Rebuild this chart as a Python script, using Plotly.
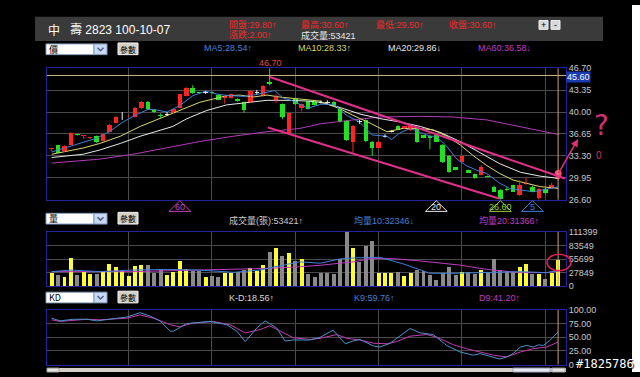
import plotly.graph_objects as go

W, H = 640, 377
FONT = "Liberation Sans, Noto Sans CJK TC, sans-serif"
CJK = "Noto Sans CJK TC, Liberation Sans, sans-serif"

# ---------------- data ----------------
opens = [34.35, 34.9, 34.0, 35.0, 36.6, 36.3, 36.05, 36.3, 35.6, 37.0,
         38.4, 39.4, 39.35, 39.3, 40.6, 41.6, 40.3, 39.55, 39.7, 39.9,
         40.7, 42.5, 43.7, 43.0, 43.0, 43.1, 42.6, 42.1, 42.2, 41.95,
         41.5, 41.5, 43.0, 42.5, 44.6, 41.9, 41.2, 36.8, 42.0, 40.6,
         41.75, 41.6, 41.55, 41.55, 41.6, 40.5, 38.6, 35.5, 38.55, 38.76,
         35.5, 34.5, 36.3, 37.0, 37.9, 37.5, 37.2, 37.5, 36.45, 36.4,
         36.45, 35.0, 33.3, 31.55, 32.4, 31.1, 30.55, 30.45, 30.25, 28.6,
         28.1, 28.3, 28.8, 27.35, 29.0, 28.6, 26.8, 28.3, 28.35, 29.8]
closes = [34.45, 33.8, 34.8, 36.8, 36.45, 36.5, 36.15, 35.4, 36.6, 38.1,
          39.3, 39.4, 39.45, 40.7, 41.6, 40.4, 40.0, 39.45, 39.7, 40.5,
          42.7, 43.7, 42.9, 42.85, 43.0, 42.85, 41.9, 42.45, 42.7, 41.7,
          40.3, 43.2, 43.0, 44.0, 44.3, 42.3, 39.3, 39.8, 41.25, 41.2,
          40.5, 41.1, 41.5, 41.5, 41.0, 38.5, 35.7, 37.9, 38.5, 35.53,
          34.5, 35.5, 36.3, 37.0, 37.3, 37.8, 37.9, 35.4, 36.05, 36.05,
          35.5, 32.3, 30.8, 31.2, 33.3, 30.75, 29.95, 31.55, 30.15, 27.85,
          26.75, 28.1, 27.85, 28.8, 29.1, 27.85, 28.3, 27.6, 28.8, 30.6]
highs = [34.45, 35.0, 34.9, 36.9, 36.6, 36.5, 36.2, 36.4, 36.7, 38.2,
         39.4, 40.0, 39.5, 40.8, 41.7, 41.7, 40.4, 39.8, 40.0, 40.6,
         42.8, 43.8, 44.1, 43.1, 43.2, 43.2, 42.7, 42.5, 42.8, 42.1,
         41.6, 43.3, 43.4, 44.1, 46.7, 42.7, 41.3, 39.9, 42.1, 41.3,
         41.8, 41.7, 41.8, 41.8, 41.7, 40.6, 38.7, 38.0, 38.8, 38.9,
         35.6, 35.6, 36.6, 37.2, 38.0, 37.9, 38.0, 37.6, 36.5, 36.5,
         36.5, 35.1, 33.4, 31.6, 33.4, 31.2, 30.6, 31.9, 30.3, 28.7,
         28.2, 28.5, 28.9, 29.6, 29.9, 28.7, 28.4, 28.4, 29.2, 30.6]
lows = [34.0, 33.7, 33.9, 34.9, 36.4, 35.9, 35.9, 35.3, 35.5, 36.9,
        38.3, 38.8, 39.3, 39.2, 40.5, 40.3, 39.9, 39.0, 39.4, 39.8,
        40.6, 42.4, 42.8, 42.8, 42.8, 42.8, 41.8, 41.3, 42.1, 41.6,
        39.9, 41.4, 42.7, 42.4, 44.1, 41.4, 38.9, 36.7, 41.1, 40.1,
        40.4, 41.0, 41.3, 41.3, 40.9, 38.4, 35.6, 33.8, 38.2, 35.4,
        33.3, 34.4, 36.1, 36.9, 37.2, 37.4, 37.1, 35.3, 36.0, 34.3,
        35.4, 32.2, 30.7, 31.1, 32.3, 30.7, 29.8, 30.3, 30.1, 27.8,
        26.6, 27.9, 27.8, 27.2, 28.9, 27.8, 26.6, 27.5, 28.3, 29.5]
volumes = [26600, 23300, 20000, 58600, 23300, 28600, 25300, 24600, 32000, 46600,
           40000, 32000, 21300, 42000, 44000, 44000, 28000, 33300, 23300, 28600,
           51300, 34600, 32000, 32000, 18600, 21300, 18600, 26600, 26600, 30000,
           33300, 38000, 32000, 44600, 70000, 78000, 62000, 67300, 52000, 56600,
           24600, 18600, 27300, 26600, 25300, 56600, 111399, 78600, 50000, 83300,
           93300, 28000, 28000, 28000, 30000, 21300, 28000, 33300, 32000, 23300,
           13300, 28000, 40000, 23300, 30000, 30000, 25300, 33300, 30000, 56600,
           33300, 32000, 30000, 40000, 46600, 25300, 25300, 14600, 28000, 53421]

ma5_x = [0, 2, 5, 7, 9, 11, 13, 15, 16, 18, 20, 22, 24, 26, 28, 30, 32, 34.8, 36, 37.6,
         40, 42, 44, 46, 48, 50, 52.3, 53, 54.3, 55.9, 57.5, 59, 60, 61.6, 63.2, 64.7,
         66.3, 67.9, 69.9, 71.5, 73.1, 75.1, 76.6, 79]
ma5_v = [33.9, 34.5, 35.4, 36.0, 37.0, 38.4, 39.5, 40.4, 40.4, 40.0, 41.0, 42.5, 43.2, 42.7,
         42.5, 42.4, 42.7, 43.3, 42.2, 41.7, 40.6, 41.2, 41.2, 39.5, 38.5, 36.5, 36.3, 35.8,
         36.8, 37.5, 36.9, 36.3, 36.3, 34.8, 32.8, 31.8, 31.1, 30.6, 29.1, 28.3, 28.1, 27.8,
         28.1, 28.54]
ma10_x = [0, 4.9, 7.5, 10.7, 13.8, 16.9, 20, 23.1, 25.2, 27.3, 29.4, 31.4, 33.6, 35.6,
          38.7, 41.7, 45, 47, 49.7, 52.3, 54.8, 57, 59.5, 61.6, 63.7, 65.8, 67.9, 69.9,
          72, 74.1, 76.2, 79]
ma10_v = [33.55, 34.5, 35.2, 36.3, 37.8, 39.0, 40.25, 41.5, 42.0, 42.5, 42.6, 42.3, 42.6,
          42.3, 42.0, 41.7, 40.5, 39.5, 38.3, 37.0, 37.5, 37.5, 37.3, 36.3, 35.0, 33.3,
          31.8, 30.6, 29.6, 29.1, 28.6, 28.33]
ma20_x = [0, 4.9, 7.5, 10.7, 13.8, 16.9, 18.9, 21.1, 24.2, 27.3, 30.5, 33.6, 36.7, 39.8,
          41.9, 45, 48.1, 51.2, 54.3, 57.5, 60.6, 63.7, 66.8, 69.9, 73.1, 76.2, 79]
ma20_v = [33.05, 33.55, 34.2, 35.2, 36.3, 37.2, 37.8, 39.0, 40.25, 41.1, 41.5, 41.8, 41.8,
          41.7, 41.5, 40.7, 39.7, 39.0, 38.5, 37.8, 36.9, 35.5, 33.8, 32.1, 30.8, 30.2, 29.86]
ma60_x = [0, 7.5, 12.7, 18, 23.1, 28.3, 33.6, 38.7, 41.9, 47, 51.2, 57.5, 62.6, 67.9, 73.1, 79]
ma60_v = [32.2, 32.8, 33.55, 34.5, 35.5, 36.3, 37.0, 37.5, 38.2, 38.8, 39.25, 39.35, 39.25,
          38.8, 37.8, 36.58]

vma10_x = [0, 3, 7.5, 12.6, 18, 23, 28.4, 32.5, 36.1, 38.7, 41.9, 45, 47, 49.7, 51.2, 54.8,
           57.4, 59, 62.6, 67.9, 73.1, 77.2, 79]
vma10_v = [30000, 33300, 30000, 33300, 34600, 33300, 28600, 33300, 43300, 50000, 47300,
           56000, 58000, 59300, 59300, 46000, 33300, 26600, 26600, 28000, 30000, 28000, 32346]
vma20_x = [0, 12.6, 23, 33.6, 38.7, 41.9, 47, 49.7, 53.3, 57.4, 63.7, 67.9, 73.1, 77.2, 79]
vma20_v = [30000, 30000, 33300, 36600, 40000, 43000, 50000, 56600, 56600, 52000, 43300,
           34600, 28000, 28000, 31366]

k_x = [0, 1.3, 3.4, 5.5, 7, 10, 11.7, 13.8, 15.3, 16.9, 18.5, 19, 21, 24.7, 27.3, 28.9, 30.2,
       32, 33.3, 35.1, 36.4, 37.7, 40.3, 41.9, 43.9, 45.8, 47, 48.1, 50.2, 51.2, 52.8, 55.9,
       57.5, 59.5, 61.6, 63.7, 64.7, 65.8, 66.8, 68.9, 69.9, 71, 72, 73.1, 74.1, 75.1, 75.9,
       76.7, 77.7, 79]
k_v = [85, 80, 83, 83, 80, 85, 87, 95, 89, 80, 61, 61, 75, 79, 73, 61, 42, 67, 80, 67, 43, 45,
       45, 50, 63, 38, 43, 46, 34, 32, 39, 66, 58, 55, 35, 23, 20, 17, 20, 14, 10, 14, 20, 32,
       35, 32, 36, 35, 44, 59.76]
d_x = [0, 1.3, 5.5, 7.5, 11.7, 13.8, 15.9, 18.5, 20, 22, 25.2, 27.8, 30.2, 32.5, 34, 36.1,
       37.7, 40.3, 41.9, 44.5, 46, 48.1, 50.2, 52.3, 53.8, 55.9, 58.5, 60, 62.7, 64.7, 66.8,
       68.9, 71, 73.1, 75.1, 77.2, 79]
d_v = [82, 79, 83, 82, 85, 91, 85, 73, 69, 76, 79, 73, 58, 64, 71, 58, 49, 46, 48, 55, 48, 45,
       39, 38, 42, 52, 55, 50.5, 36, 29, 23, 17, 14, 23, 29, 32, 41.2]

price_ticks = [46.70, 43.35, 40.00, 36.65, 33.30, 29.95, 26.60]
vol_ticks = [0, 27849, 55699, 83549, 111399]
kd_ticks = [0, 25, 50, 75, 100]
kd_ticktext = ["0", "25.00", "50.00", "75.00", "100.00"]
grid_idx = [12, 25, 38, 51, 64, 77]
cursor_price = 45.60
ma_markers = [(20, "60", "#c040c0"), (60, "20", "#e8e8e8"), (70, "26.60", "#9acd32"), (75, "5", "#3f7fd8")]
trend_upper = [(34.06, 45.36), (80.08, 29.83)]
trend_lower = [(33.75, 37.63), (69.9, 26.75)]

# ---------------- helpers ----------------
def X(p): return p / W
def Y(p): return 1 - p / H

fig = go.Figure()
up_c, dn_c, dj_c = "#ff2424", "#22e022", "#f0f0f0"
body_base, body_h, body_col = [], [], []
wick = {up_c: ([], []), dn_c: ([], []), dj_c: ([], [])}
vol_col = []
for i, (o, h, l, c) in enumerate(zip(opens, highs, lows, closes)):
    if abs(c - o) < 0.06:
        col = dj_c
    elif c > o:
        col = up_c
    else:
        col = dn_c
    hgt = max(abs(c - o), 0.14)
    lo = min(o, c) if abs(c - o) >= 0.14 else (o + c) / 2 - 0.07
    body_base.append(lo); body_h.append(hgt); body_col.append(col)
    wick[col][0].extend([i, i, None]); wick[col][1].extend([l, h, None])
    vol_col.append("#ffff30" if c >= o else "#8a8a8a")

idx = list(range(len(closes)))

for xs, vs, col in [(ma60_x, ma60_v, "#b03cb8"), (ma20_x, ma20_v, "#e8e8e8"),
                    (ma10_x, ma10_v, "#d8d870"), (ma5_x, ma5_v, "#3f80d8")]:
    fig.add_trace(go.Scatter(x=xs, y=vs, mode="lines", line=dict(color=col, width=1),
                             xaxis="x", yaxis="y", hoverinfo="skip"))
for col, (wx, wy) in wick.items():
    fig.add_trace(go.Scatter(x=wx, y=wy, mode="lines", line=dict(color=col, width=1),
                             xaxis="x", yaxis="y", hoverinfo="skip"))
fig.add_trace(go.Bar(x=idx, y=body_h, base=body_base, width=0.7,
                     marker=dict(color=body_col, line=dict(width=0)), xaxis="x", yaxis="y"))
fig.add_trace(go.Scatter(x=[idx[-1]], y=[closes[-1]], mode="markers",
                         marker=dict(color="#ff4a78", size=7), xaxis="x", yaxis="y"))

fig.add_trace(go.Bar(x=idx, y=volumes, width=0.62, marker=dict(color=vol_col, line=dict(width=0)),
                     xaxis="x2", yaxis="y2"))
fig.add_trace(go.Scatter(x=vma20_x, y=vma20_v, mode="lines", line=dict(color="#c03cc0", width=1),
                         xaxis="x2", yaxis="y2"))
fig.add_trace(go.Scatter(x=vma10_x, y=vma10_v, mode="lines", line=dict(color="#3f80d8", width=1),
                         xaxis="x2", yaxis="y2"))

fig.add_trace(go.Scatter(x=d_x, y=d_v, mode="lines", line=dict(color="#c03cb0", width=1),
                         xaxis="x3", yaxis="y3"))
fig.add_trace(go.Scatter(x=k_x, y=k_v, mode="lines", line=dict(color="#4a92c8", width=1),
                         xaxis="x3", yaxis="y3"))

BORDER = "#23239b"
GRID = "#4a4a4a"
xcommon = dict(range=[-0.73, 80.23], domain=[X(47), X(566)], showticklabels=False,
               tickvals=grid_idx, showgrid=True, gridcolor=GRID, zeroline=False,
               showline=True, linecolor=BORDER, mirror=True, ticks="", fixedrange=True)
ycommon = dict(side="right", showgrid=True, gridcolor=GRID, zeroline=False, showline=True,
               linecolor=BORDER, mirror=True, ticks="",
               tickfont=dict(size=9, color="#c8c8c8", family=FONT), fixedrange=True)

shapes = []
ann = []

def rect(x0, y0, x1, y1, fill, line=None, lw=1, layer="above"):
    shapes.append(dict(type="rect", xref="paper", yref="paper", x0=X(x0), x1=X(x1),
                       y0=Y(y1), y1=Y(y0), fillcolor=fill, layer=layer,
                       line=dict(color=line if line else fill, width=lw if line else 0)))

def txt(x, y, s, color, size=9, xanchor="left", family=FONT, bg=None, shadow=None):
    f = dict(color=color, size=size, family=family)
    if shadow:
        f["shadow"] = shadow
    d = dict(x=X(x), y=Y(y), xref="paper", yref="paper", text=s, showarrow=False,
             xanchor=xanchor, yanchor="middle", font=f, borderpad=0)
    if bg:
        d["bgcolor"] = bg
    ann.append(d)

# white strip on right
rect(632, 0, 640, 377, "#ffffff", layer="below")
# header bar
rect(35, 12, 603, 37, "#3a3a3a", layer="below")
txt(47, 25, "中", "#ffffff", 12, family=CJK)
txt(69, 25, "壽 2823 100-10-07", "#ffffff", 12)
RED = "#ee2a2a"
txt(228, 20, "開盤:29.80↑", RED)
txt(228, 31, "漲跌:2.00↑", RED)
txt(300, 20, "最高:30.60↑", RED)
txt(300, 31, "成交量:53421", "#e8e8e8")
txt(375, 20, "最低:29.50↑", RED)
txt(448, 20, "收盤:30.60↑", RED)
rect(539, 16, 548, 25, "#d8d8d8", "#f0f0f0")
rect(551, 16, 560, 25, "#d8d8d8", "#f0f0f0")
txt(543.5, 20.5, "+", "#000000", 9, "center")
txt(555.5, 20.5, "-", "#000000", 9, "center")

# dropdowns and buttons
def dropdown(y0, label):
    rect(46, y0, 94, y0 + 11, "#ffffff", "#7f9db9")
    rect(94, y0, 107, y0 + 11, "#c9d8f6", "#7f9db9")
    cy = y0 + 5.5
    shapes.append(dict(type="path", xref="paper", yref="paper",
                       path=f"M {X(97.5)},{Y(cy-1.5)} L {X(100.5)},{Y(cy+1.5)} L {X(103.5)},{Y(cy-1.5)}",
                       line=dict(color="#4d6185", width=1.5)))
    txt(48, cy, label, "#000000", 9, family=CJK)
    rect(118, y0 - 1, 138, y0 + 11, "#d4d0c8", "#f4f4f4")
    txt(128, cy, "參數", "#000000", 8, "center", family=CJK)

dropdown(40, "價")
dropdown(214, "量")
dropdown(295, "KD")

txt(203, 44, "MA5:28.54↑", "#3f80d8")
txt(297, 44, "MA10:28.33↑", "#d8d860")
txt(387, 44, "MA20:29.86↓", "#e8e8e8")
txt(477, 44, "MA60:36.58↓", "#c03cc0")
txt(270, 60, "46.70", "#e04848", 9, "center")

txt(228, 221, "成交量(張):53421↑", "#c8c8c8")
txt(353, 221, "均量10:32346↓", "#3f80d8")
txt(478, 221, "均量20:31366↑", "#c03cc0")

txt(228, 301, "K-D:18.56↑", "#d8d8d8")
txt(353, 301, "K9:59.76↑", "#3f80d8")
txt(478, 301, "D9:41.20↑", "#c03cc0")

# 45.60 cursor label
txt(566, 73.5, f"{cursor_price:.2f}", "#ffffff", 9, bg="#1a3ab0")

# MA period markers under main chart
for ci, lab, col in ma_markers:
    shapes.append(dict(type="path", xref="x", yref="paper",
                       path=f"M {ci-1.7},{Y(212)} L {ci+1.7},{Y(212)} L {ci},{Y(201)} Z",
                       line=dict(color=col, width=1), fillcolor="rgba(0,0,0,0)"))
    ann.append(dict(x=ci, y=Y(207.5), xref="x", yref="paper", text=lab, showarrow=False,
                    xanchor="center", yanchor="middle", font=dict(color=col, size=9, family=FONT)))

# cursor lines
shapes.append(dict(type="line", xref="x domain", yref="y", x0=0, x1=1, y0=cursor_price,
                   y1=cursor_price, line=dict(color="#c8b48c", width=1)))
for yr, xr in [("y domain", "x"), ("y2 domain", "x2"), ("y3 domain", "x3")]:
    shapes.append(dict(type="line", xref=xr, yref=yr, x0=idx[-1], x1=idx[-1], y0=0, y1=1,
                       line=dict(color="#c8a070", width=1)))
# trend channel
for (a, b) in [trend_upper, trend_lower]:
    shapes.append(dict(type="line", xref="x", yref="y", x0=a[0], y0=a[1], x1=b[0], y1=b[1],
                       line=dict(color="#e0308a", width=2)))
# hand annotations
ann.append(dict(x=X(578), y=Y(137.7), xref="paper", yref="paper", text="", showarrow=True,
                ax=-20.3, ay=35.6, arrowhead=2, arrowsize=1, arrowwidth=1.5, arrowcolor="#e0307a"))
txt(601, 124, "?", "#d03070", 28, "center", family="DejaVu Sans")
txt(599, 155, "0", "#d03060", 10, "center")
shapes.append(dict(type="circle", xref="paper", yref="paper", x0=X(547), x1=X(571),
                   y0=Y(273), y1=Y(256), line=dict(color="#e02050", width=1.5)))

# scrollbar
rect(47, 373, 566, 377, "#d4d0c8", layer="below")
rect(47, 373, 59, 377, "#e4e4e4", "#a0a0a0")
rect(513, 373, 550, 377, "#e6e9f2", "#a0a8c0")
rect(552, 373, 565, 377, "#e4e4e4", "#a0a0a0")

txt(605, 369, "#1825786", "#ffffff", 12, "center", family="DejaVu Sans Mono",
    shadow="1px 1px 1px #000, -1px -1px 1px #000")

fig.update_layout(
    width=W, height=H, margin=dict(l=0, r=0, t=0, b=0),
    paper_bgcolor="#000000", plot_bgcolor="#000000", showlegend=False,
    barmode="overlay", bargap=0, hovermode=False,
    font=dict(family=FONT, size=9, color="#c8c8c8"),
    xaxis=dict(anchor="y", **xcommon),
    xaxis2=dict(anchor="y2", **xcommon),
    xaxis3=dict(anchor="y3", **xcommon),
    yaxis=dict(anchor="x", domain=[Y(200), Y(65)], range=[26.598, 46.702],
               tickvals=price_ticks, ticktext=[f"{v:.2f}" for v in price_ticks], **ycommon),
    yaxis2=dict(anchor="x2", domain=[Y(289), Y(233)], range=[-20, 111420],
                tickvals=vol_ticks, ticktext=[str(v) for v in vol_ticks], **ycommon),
    yaxis3=dict(anchor="x3", domain=[Y(369.3), Y(313.3)], range=[-0.02, 100.02],
                tickvals=kd_ticks, ticktext=kd_ticktext, **ycommon),
    shapes=shapes, annotations=ann,
)

fig.write_html("out.html", config={"displayModeBar": False, "staticPlot": True},
               post_script="document.body.style.margin='0';")
